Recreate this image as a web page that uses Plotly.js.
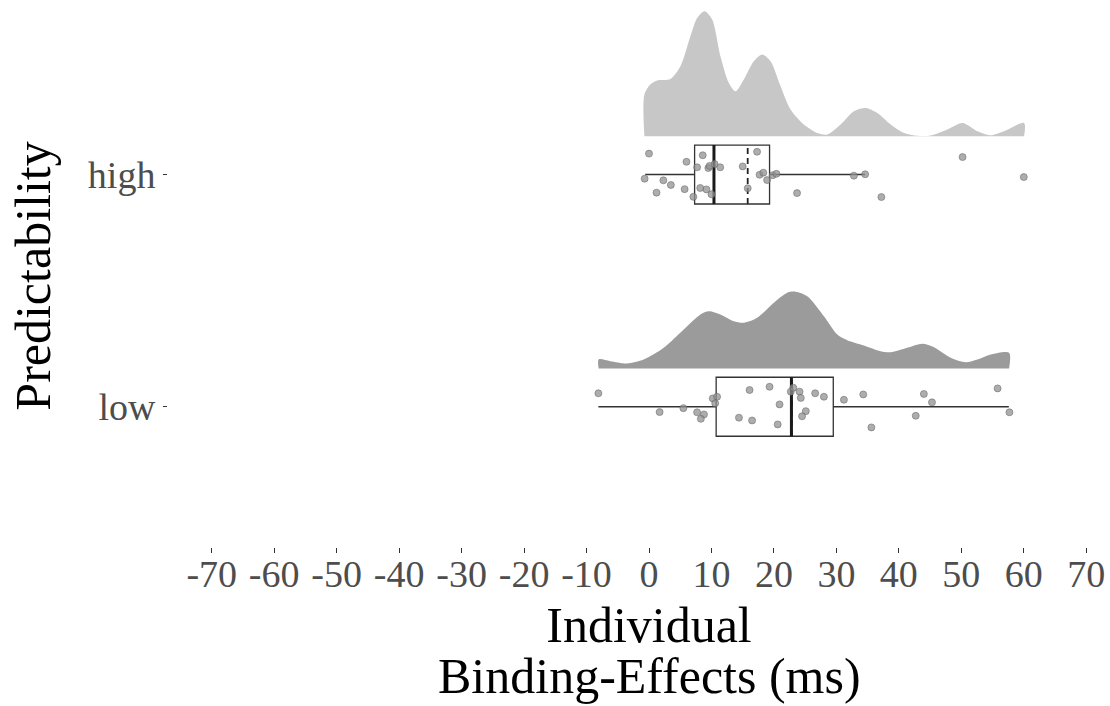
<!DOCTYPE html>
<html><head><meta charset="utf-8">
<script src="https://cdn.plot.ly/plotly-3.0.1.min.js"></script>
<style>html,body{margin:0;padding:0;overflow:hidden;background:#fff}#chart{width:1130px;height:706px}</style>
</head><body><div id="chart"></div>
<script>
const categories = ["high", "low"];
const catPos = [1, 0];

const xTicks = [-70, -60, -50, -40, -30, -20, -10, 0, 10, 20, 30, 40, 50, 60, 70];
const xTitleLines = ["Individual", "Binding-Effects (ms)"];
const yTitle = "Predictability";

const highDensX = [-0.74, 0.22, 1.29, 3.43, 5.03, 6.63, 7.71, 8.88, 10.11, 11.44, 12.78, 13.85, 15.18, 16.78, 18.12, 19.46, 21.06, 22.66, 24.79, 26.94, 28.54, 30.67, 32.81, 34.68, 36.55, 38.69, 40.82, 42.96, 45.1, 47.77, 50.18, 52.58, 54.71, 56.84, 60.05];
const highDens = [0.0167, 0.0207, 0.0223, 0.0229, 0.028, 0.040, 0.0473, 0.050, 0.0467, 0.032, 0.0213, 0.018, 0.0227, 0.030, 0.0327, 0.030, 0.020, 0.0107, 0.0047, 0.0013, 0.0007, 0.0047, 0.010, 0.0113, 0.0093, 0.0047, 0.0013, 0.0002, 0.0003, 0.0027, 0.0053, 0.002, 0.0004, 0.002, 0.0053];

const lowDensX = [-8.06, -6.19, -3.51, -0.85, 2.36, 5.56, 8.24, 9.57, 11.44, 13.57, 15.18, 17.32, 19.99, 22.13, 23.46, 25.34, 28.0, 30.14, 31.75, 34.41, 37.08, 38.69, 41.36, 43.77, 45.63, 48.3, 50.71, 52.58, 54.71, 57.65];
const lowDens = [0.0036, 0.0029, 0.002, 0.0036, 0.0083, 0.0156, 0.0216, 0.0229, 0.0216, 0.0189, 0.0183, 0.0203, 0.0263, 0.0303, 0.0307, 0.0289, 0.0209, 0.0136, 0.0113, 0.0092, 0.0069, 0.0065, 0.0083, 0.0099, 0.0085, 0.0043, 0.0025, 0.0036, 0.0056, 0.0063];

const highValues = [0, -0.7, 1.2, 2.3, 3.5, 5.7, 6.0, 7.1, 7.7, 8.2, 8.6, 9.2, 9.5, 9.7, 10.0, 10.5, 11.4, 15.0, 15.8, 17.3, 17.7, 18.3, 18.9, 19.8, 20.4, 23.7, 32.8, 34.6, 37.2, 50.2, 60.0];
const highJitter = [0.090, -0.018, -0.078, -0.025, -0.045, -0.063, 0.055, -0.096, 0.031, -0.058, 0.083, -0.064, 0.028, 0.037, -0.085, 0.045, 0.031, 0.035, -0.059, 0.098, -0.001, 0.008, -0.024, -0.003, 0.003, -0.080, -0.005, 0.001, -0.097, 0.075, -0.011];

const lowValues = [-8.1, 1.7, 5.5, 7.7, 8.8, 8.3, 10.2, 10.9, 10.6, 14.4, 16.1, 16.5, 19.3, 20.6, 20.9, 22.7, 23.1, 24.1, 24.3, 25.1, 24.5, 26.6, 28.0, 31.2, 34.3, 35.6, 42.7, 44.0, 45.3, 55.8, 57.7];
const lowJitter = [0.058, -0.023, -0.006, -0.024, -0.033, -0.052, 0.036, 0.043, 0.015, -0.047, 0.072, -0.059, 0.086, -0.076, 0.010, 0.065, 0.082, 0.065, 0.038, -0.019, -0.041, 0.058, 0.043, 0.030, 0.053, -0.089, -0.039, 0.055, 0.019, 0.079, -0.024];

const boxQ1 = [7.3, 10.75];
const boxMedian = [10.4, 22.8];
const boxQ3 = [19.3, 29.5];
const boxLower = [-0.6, -8.1];
const boxUpper = [34.6, 57.6];
const boxMean = [15.8, 22.85];

// styling
const densOffset = 0.165;
const densScale = 10.77;
const boxWidth = 0.254;
const serif = "Liberation Serif, Times New Roman, serif";

function densTrace(xs, ds, pos, color) {
  const base = pos + densOffset;
  const x = [xs[0]].concat(xs, [xs[xs.length - 1]]);
  const y = [base].concat(ds.map(d => base + d * densScale), [base]);
  return {x: x, y: y, type: 'scatter', mode: 'lines', fill: 'toself', fillcolor: color,
    line: {width: 0, shape: 'spline', smoothing: 0.8}, hoverinfo: 'skip', showlegend: false};
}

const traces = [];
traces.push(densTrace(highDensX, highDens, catPos[0], '#c7c7c7'));
traces.push(densTrace(lowDensX, lowDens, catPos[1], '#9b9b9b'));

traces.push({
  type: 'box', orientation: 'h', y: catPos,
  q1: boxQ1, median: boxMedian, q3: boxQ3, lowerfence: boxLower, upperfence: boxUpper,
  width: boxWidth, whiskerwidth: 0,
  fillcolor: 'rgba(255,255,255,0)', line: {color: '#333333', width: 1.3},
  boxpoints: false, showlegend: false, hoverinfo: 'skip'
});

// dashed mean lines
boxMean.forEach((m, i) => {
  traces.push({x: [m, m], y: [catPos[i] - boxWidth / 2, catPos[i] + boxWidth / 2], type: 'scatter', mode: 'lines',
    line: {color: '#222222', width: 1.8, dash: '6px,4px'}, showlegend: false, hoverinfo: 'skip'});
});

// thick median lines
boxMedian.forEach((m, i) => {
  traces.push({x: [m, m], y: [catPos[i] - boxWidth / 2, catPos[i] + boxWidth / 2], type: 'scatter', mode: 'lines',
    line: {color: '#1a1a1a', width: 3}, showlegend: false, hoverinfo: 'skip'});
});

function pointTrace(vals, jit, pos) {
  return {x: vals, y: jit.map(j => pos + j), type: 'scatter', mode: 'markers',
    marker: {size: 7, color: 'rgba(145,145,145,0.75)', line: {color: 'rgba(100,100,100,0.75)', width: 0.7}},
    showlegend: false, hoverinfo: 'skip'};
}
traces.push(pointTrace(highValues, highJitter, catPos[0]));
traces.push(pointTrace(lowValues, lowJitter, catPos[1]));

const layout = {
  width: 1130, height: 706,
  margin: {l: 168, r: 0, t: 5, b: 159},
  paper_bgcolor: '#ffffff', plot_bgcolor: '#ffffff',
  showlegend: false,
  xaxis: {
    range: [-77, 77], tickvals: xTicks, ticktext: xTicks.map(String),
    showgrid: false, zeroline: false, showline: false,
    ticks: 'outside', ticklen: 5, tickwidth: 1, tickcolor: '#333333',
    ticklabelstandoff: -12,
    tickfont: {family: serif, size: 38, color: '#4d4d4d'},
    title: {text: xTitleLines[0], font: {family: serif, size: 50, color: '#000000'}, standoff: 13}
  },
  yaxis: {
    range: [-0.604, 1.730], tickvals: catPos, ticktext: categories,
    showgrid: false, zeroline: false, showline: false,
    ticks: 'outside', ticklen: 4, tickwidth: 1, tickcolor: '#333333',
    tickfont: {family: serif, size: 38, color: '#4d4d4d'},
    title: {text: yTitle, font: {family: serif, size: 50, color: '#000000'}, standoff: 21}
  },
  annotations: [{
    text: xTitleLines[1], xref: 'paper', yref: 'paper', x: 0.5, y: 0,
    xanchor: 'center', yanchor: 'middle', yshift: -129, borderpad: 0, showarrow: false,
    font: {family: serif, size: 50, color: '#000000'}
  }]
};

Plotly.newPlot('chart', traces, layout, {displayModeBar: false, staticPlot: true});
</script>
</body></html>
